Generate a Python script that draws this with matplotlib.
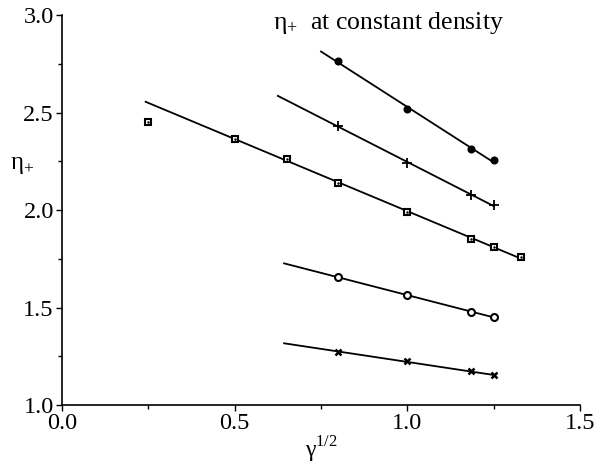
import numpy as np
import matplotlib
matplotlib.use("Agg")
import matplotlib.pyplot as plt
from matplotlib.ticker import MultipleLocator, FormatStrFormatter

plt.rcParams['font.family'] = ['Liberation Serif', 'DejaVu Serif']
plt.rcParams['mathtext.fontset'] = 'custom'
plt.rcParams['mathtext.rm'] = 'Liberation Serif'

# data
x_main = [0.80, 1.00, 1.185, 1.25]
y_filled = [2.764, 2.516, 2.313, 2.255]
y_plus = [2.432, 2.239, 2.077, 2.026]
y_circle = [1.655, 1.564, 1.479, 1.450]
y_cross = [1.273, 1.224, 1.173, 1.152]

x_square = [0.25, 0.50, 0.65, 0.80, 1.00, 1.185, 1.25, 1.33]
y_square = [2.451, 2.364, 2.260, 2.140, 1.988, 1.851, 1.812, 1.757]

# left end of each fitted line
line_start = {'filled': 0.75, 'plus': 0.625, 'square': 0.242, 'circle': 0.643, 'cross': 0.643}

fig = plt.figure(figsize=(5.97, 4.71), dpi=100)
ax = fig.add_axes([0.104, 0.140, 0.8675, 0.828])

def fit_line(xs, ys, x0, x1):
    p = np.polyfit(xs, ys, 1)
    xx = np.array([x0, x1])
    ax.plot(xx, np.polyval(p, xx), color='black', lw=1.3, zorder=2)

fit_line(x_main, y_filled, line_start['filled'], x_main[-1])
fit_line(x_main, y_plus, line_start['plus'], x_main[-1])
fit_line(x_square[1:], y_square[1:], line_start['square'], x_square[-1])
fit_line(x_main, y_circle, line_start['circle'], x_main[-1])
fit_line(x_main, y_cross, line_start['cross'], x_main[-1])

ax.plot(x_main, y_filled, 'o', ms=4.8, color='black', zorder=3)
ax.plot(x_main, y_plus, '+', ms=6.5, mew=1.3, color='black', zorder=3)
ax.plot(x_square, y_square, 's', ms=4.8, mfc='white', mec='black', mew=1.5, zorder=3)
ax.plot(x_square, y_square, '.', ms=1.5, color='black', zorder=4)
ax.plot(x_main, y_circle, 'o', ms=5, mfc='white', mec='black', mew=1.5, zorder=3)
ax.plot(x_main, y_cross, 'x', ms=5, mew=1.8, color='black', zorder=3)

ax.set_xlim(0, 1.5)
ax.set_ylim(1.0, 3.0)
ax.spines['top'].set_visible(False)
ax.spines['right'].set_visible(False)
ax.spines['left'].set_linewidth(1.2)
ax.spines['bottom'].set_linewidth(1.2)
ax.xaxis.set_major_locator(MultipleLocator(0.5))
ax.xaxis.set_minor_locator(MultipleLocator(0.25))
ax.yaxis.set_major_locator(MultipleLocator(0.5))
ax.yaxis.set_minor_locator(MultipleLocator(0.25))
ax.xaxis.set_major_formatter(FormatStrFormatter('%.1f'))
ax.yaxis.set_major_formatter(FormatStrFormatter('%.1f'))
ax.tick_params(which='major', direction='out', length=4, width=1, labelsize=17.5, pad=2)
ax.tick_params(which='minor', direction='out', length=3, width=1)

ax.set_xlabel('γ$^{1/2}$', fontsize=17, labelpad=0)
ax.text(-0.077, 0.615, 'η$_{+}$', transform=ax.transAxes, fontsize=18, ha='center', va='center')
ax.text(0.61, 3.025, 'η$_{+}$  at constant density', fontsize=18.5, ha='left', va='top')

fig.savefig('out.png', dpi=100)
